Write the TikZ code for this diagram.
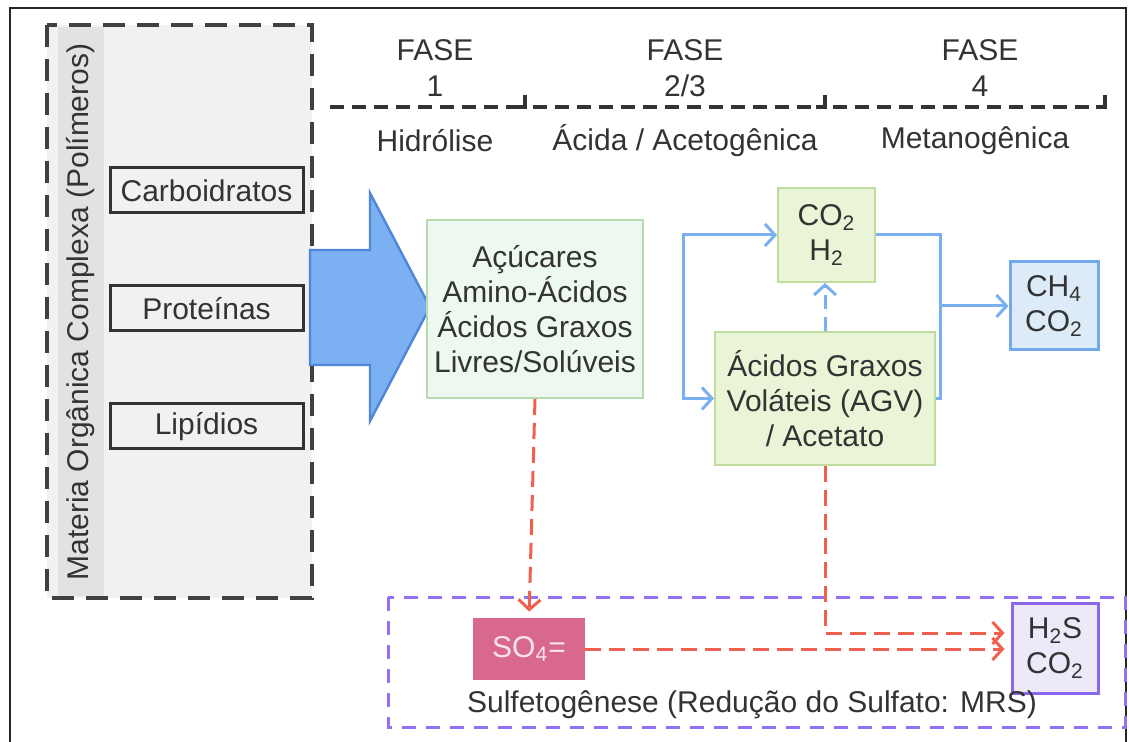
\documentclass[tikz,border=0pt]{standalone}
\usepackage{fontspec}
\setmainfont{Liberation Sans}
\usepackage{xcolor}
\usepackage{tikz}
\usetikzlibrary{arrows.meta, positioning, calc}

\definecolor{txtgrey}{HTML}{333333}
\definecolor{panelgrey}{HTML}{F1F1F1}
\definecolor{stripgrey}{HTML}{E1E3E3}
\definecolor{mintfill}{HTML}{EDF8F0}
\definecolor{mintline}{HTML}{B6DCAE}
\definecolor{limefill}{HTML}{EAF4D6}
\definecolor{limeline}{HTML}{BFDC9E}
\definecolor{skyfill}{HTML}{DDEBF8}
\definecolor{skyline}{HTML}{72A9EA}
\definecolor{flowblue}{HTML}{7AAFF0}
\definecolor{bigfill}{HTML}{7BB1F2}
\definecolor{bigline}{HTML}{4F86DA}
\definecolor{sulfill}{HTML}{D8698C}
\definecolor{sultext}{HTML}{FAE3EA}
\definecolor{lilacfill}{HTML}{EEE9F8}
\definecolor{lilacline}{HTML}{8C66EC}
\definecolor{dashpurple}{HTML}{9370F5}
\definecolor{dashred}{HTML}{F0604F}

\begin{document}
\begin{tikzpicture}[
    x=0.5pt, y=-0.5pt,
    font=\fontsize{15}{17.5}\selectfont, text=txtgrey,
    polymer/.style={rectangle, draw=black!80, line width=1.5pt, fill=panelgrey, minimum width=96.5pt, minimum height=22.5pt},
    product/.style={rectangle, draw=mintline, fill=mintfill, line width=1pt, align=center},
    acid/.style={rectangle, draw=limeline, fill=limefill, line width=1pt, align=center},
    gas/.style={rectangle, draw=skyline, fill=skyfill, line width=1.5pt, align=center},
    phase/.style={align=center, font=\fontsize{15}{18}\selectfont},
    phaseline/.style={black!80, line width=2pt, dash pattern=on 7pt off 4pt},
    tick/.style={black!80, line width=2.2pt},
    blueflow/.style={flowblue, line width=1.5pt, -{Straight Barb[length=5pt, width=11pt]}},
    redflow/.style={dashred, line width=1.5pt, dash pattern=on 8pt off 4pt, -{Straight Barb[length=5pt, width=11pt]}}
]
\useasboundingbox (0,0) rectangle (1129,742);

% Outer frame
\draw[black!85, line width=1.2pt] (10,8) rectangle (1126,760);

% Complex organic matter
\draw[fill=panelgrey, draw=none] (47,25) rectangle (312,598);
\fill[stripgrey] (58,27) rectangle (104,596);
\draw[black!75, line width=1.6pt, dash pattern=on 11pt off 6pt] (47,25) rectangle (312,598);
\node[rotate=90] (polymers) at (81,312) {Materia Orgânica Complexa (Polímeros)};

\node[polymer] (carb) at (206.5,190.5) {Carboidratos};
\node[polymer, below=35pt of carb] (prot) {Proteínas};
\node[polymer, below=35pt of prot] (lip) {Lipídios};

% Big arrow
\draw[fill=bigfill, draw=bigline, line width=1.2pt]
    (310,250) -- (370,250) -- (370,193) -- (430,307) -- (370,421) -- (370,365) -- (310,365) -- cycle;

% Phases
\node[phase] (fase1) at (435,68) {FASE\\1};
\node[phase] (fase2) at (685,68) {FASE\\2/3};
\node[phase] (fase3) at (980,68) {FASE\\4};
\draw[phaseline] (330,107) -- (516,107);
\draw[tick] (516,107) -| (525,95);
\draw[phaseline] (533,107) -- (816,107);
\draw[tick] (816,107) -| (825,95);
\draw[phaseline] (833,107) -- (1096,107);
\draw[tick] (1096,107) -| (1105,95);
\node (hidro) at (435,141) {Hidrólise};
\node (acido) at (685,141) {Ácida / Acetogênica};
\node (metano) at (975,141) {Metanogênica};

% Products
\node[product, minimum width=105pt, minimum height=89pt] (mono) at (535,309)
    {Açúcares\\Amino-Ácidos\\Ácidos Graxos\\Livres/Solúveis};
\node[acid, minimum width=48.5pt, minimum height=47pt] (co2) at (826.5,235)
    {CO\textsubscript{2}\\H\textsubscript{2}};
\node[acid, minimum width=110pt, minimum height=66.5pt] (agv) at (825,398.5)
    {Ácidos Graxos\\Voláteis (AGV)\\/ Acetato};
\node[gas, minimum width=44pt, minimum height=44pt] (ch4) at (1054,306)
    {CH\textsubscript{4}\\CO\textsubscript{2}};

% Blue arrows
\coordinate (lp) at (683,235);
\coordinate (rp) at (940,235);
\coordinate (rj) at (rp |- ch4.west);
\draw[blueflow, {Straight Barb[length=5pt, width=11pt]}-{Straight Barb[length=5pt, width=11pt]}]
    (co2.west) -- (lp) |- (agv.west);
\draw[flowblue, line width=1.5pt] (co2.east) -- (rp) |- (agv.east);
\draw[blueflow] (rj) -- (ch4.west);
\draw[blueflow, dash pattern=on 7pt off 4pt] (agv.north) -- (agv.north |- co2.south);

% Sulfate reduction
\draw[dashpurple, line width=1.5pt, dash pattern=on 7pt off 5pt] (388,597) rectangle (1125,727);
\node[rectangle, fill=sulfill, text=sultext, minimum width=56pt, minimum height=31pt] (so4) at (529,649)
    {SO\textsubscript{4}=};
\node[rectangle, draw=lilacline, fill=lilacfill, line width=1.5pt, align=center,
    minimum width=43pt, minimum height=45pt] (h2s) at (1055,648)
    {H\textsubscript{2}S\\CO\textsubscript{2}};
\node (mrs) at (752,705) {Sulfetogênese (Redução do Sulfato: MRS)};

% Red arrows
\draw[redflow, shorten >=3pt] (mono.south) -- (so4.north);
\draw[redflow, shorten >=3pt] (agv.south) |- ($(h2s.west)+(0,-15)$);
\draw[redflow, shorten >=3pt] (so4.east) -- (so4.east -| h2s.west);

\end{tikzpicture}
\end{document}
